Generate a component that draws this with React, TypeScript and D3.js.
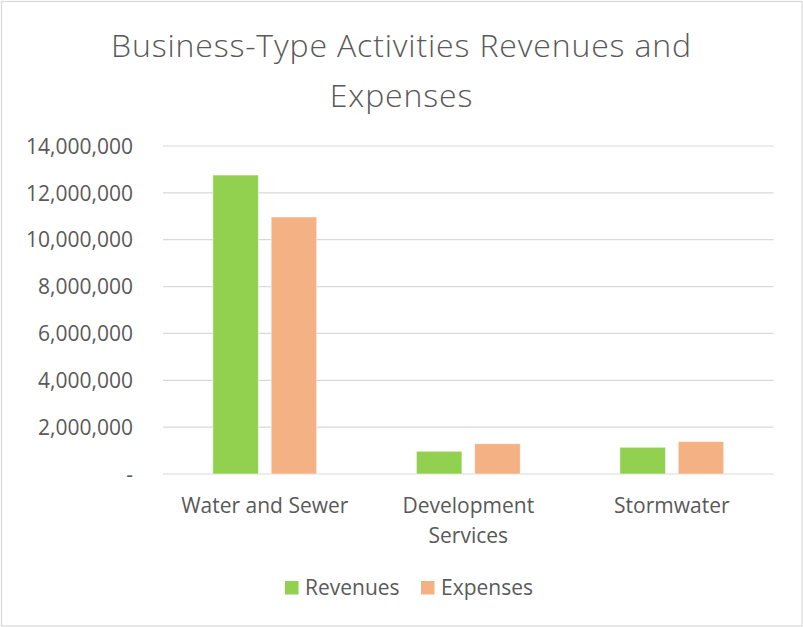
import React from "react";
import * as d3 from "d3";

const categories: string[][] = [["Water and Sewer"], ["Development", "Services"], ["Stormwater"]];
const categoryKeys = ["Water and Sewer", "Development Services", "Stormwater"];
const seriesNames = ["Revenues", "Expenses"];
const revenues = [12760000, 970000, 1140000];
const expenses = [10970000, 1290000, 1380000];
const yTicks = [0, 2000000, 4000000, 6000000, 8000000, 10000000, 12000000, 14000000];
const titleLines = ["Business-Type Activities Revenues and", "Expenses"];

const colors = ["#92D050", "#F4B183"];
const W = 803, H = 627;
const font = "'Open Sans', 'Liberation Sans', sans-serif";
const textColor = "#595959";

export default function App() {
  const left = 163, right = 773.6, top = 146, bottom = 474;
  const x = d3.scaleBand<string>().domain(categoryKeys).range([left, right]).paddingInner(0).paddingOuter(0);
  const y = d3.scaleLinear().domain([0, 14000000]).range([bottom, top]);
  const groupW = x.bandwidth();
  const barW = groupW * 0.2235;
  const gap = groupW * 0.063;
  const offsetStart = (groupW - (2 * barW + gap)) / 2;
  const fmt = (v: number) => (v === 0 ? "-" : d3.format(",")(v));
  const series = [revenues, expenses];

  return (
    <svg width={W} height={H} style={{ position: "absolute", left: 0, top: 0 }} fontFamily={font}>
      <rect x={0} y={0} width={W} height={H} fill="#fff" />
      <rect x={1.5} y={1.5} width={W - 2.5} height={H - 2.5} fill="none" stroke="#d9d9d9" strokeWidth={1.2} />
      {titleLines.map((t, i) => (
        <text key={i} x={W / 2} y={57 + i * 50} textAnchor="middle" fontSize={32} letterSpacing={0.85} fill={textColor} fontWeight={300}>
          {t}
        </text>
      ))}
      {yTicks.map((t) => (
        <g key={t}>
          <line x1={left} x2={right} y1={y(t)} y2={y(t)} stroke="#d9d9d9" strokeWidth={1.2} />
          <text x={133} y={y(t)} dy="0.37em" textAnchor="end" fontSize={21} fill={textColor}>
            {fmt(t)}
          </text>
        </g>
      ))}
      {series.map((vals, si) =>
        vals.map((v, ci) => {
          const bx = (x(categoryKeys[ci]) as number) + offsetStart + si * (barW + gap);
          return (
            <rect key={`${si}-${ci}`} x={bx} y={y(v)} width={barW} height={y(0) - y(v)} fill={colors[si]} stroke="#ffffff" strokeOpacity={0.6} strokeWidth={0.8} />
          );
        })
      )}
      {categories.map((lines, ci) => (
        <text key={ci} x={(x(categoryKeys[ci]) as number) + groupW / 2} y={513} textAnchor="middle" fontSize={21} fill={textColor}>
          {lines.map((l, li) => (
            <tspan key={li} x={(x(categoryKeys[ci]) as number) + groupW / 2} dy={li === 0 ? 0 : 29.5}>
              {l}
            </tspan>
          ))}
        </text>
      ))}
      {seriesNames.map((n, i) => {
        const lx = i === 0 ? 285 : 421;
        return (
          <g key={n}>
            <rect x={lx} y={581} width={13.5} height={13.5} fill={colors[i]} />
            <text x={lx + 20} y={595} fontSize={21} fill={textColor}>
              {n}
            </text>
          </g>
        );
      })}
    </svg>
  );
}
